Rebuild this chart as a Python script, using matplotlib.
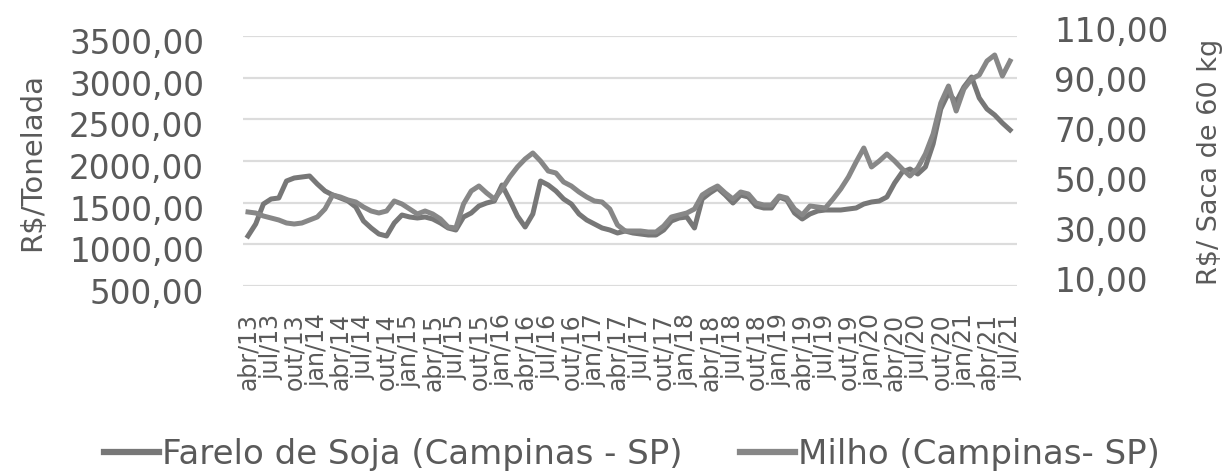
import matplotlib
matplotlib.use("Agg")
import matplotlib.pyplot as plt
from matplotlib.transforms import ScaledTranslation
import numpy as np

# ---- data ----
month_abbr = ["jan", "fev", "mar", "abr", "mai", "jun", "jul", "ago", "set", "out", "nov", "dez"]
start_year, start_month = 2013, 4  # abr/13
n_points = 100                      # abr/13 .. jul/21

farelo = [1100, 1244, 1484, 1544, 1556, 1760, 1796, 1808, 1820, 1724,
          1640, 1592, 1556, 1520, 1448, 1280, 1196, 1124, 1100, 1256,
          1352, 1328, 1316, 1328, 1304, 1256, 1196, 1172, 1328, 1376,
          1460, 1496, 1520, 1712, 1532, 1340, 1208, 1364, 1760, 1712,
          1640, 1544, 1484, 1364, 1292, 1244, 1196, 1172, 1136, 1160,
          1136, 1124, 1112, 1112, 1172, 1280, 1316, 1328, 1196, 1544,
          1616, 1676, 1592, 1496, 1592, 1568, 1460, 1436, 1436, 1568,
          1532, 1376, 1304, 1364, 1400, 1412, 1412, 1412, 1424, 1436,
          1484, 1508, 1520, 1568, 1736, 1868, 1904, 1844, 1928, 2204,
          2624, 2816, 2708, 2888, 3008, 2756, 2624, 2552, 2456, 2372]

milho = [39.6, 39.2, 38.0, 37.2, 36.4, 35.2, 34.8, 35.2, 36.4, 37.6,
         40.8, 46.4, 45.6, 44.4, 43.6, 41.6, 40.0, 39.2, 40.0, 44.0,
         42.8, 40.8, 38.8, 40.0, 38.8, 36.8, 33.6, 33.2, 42.8, 48.0,
         50.0, 47.2, 44.8, 48.8, 53.6, 57.6, 60.8, 63.2, 60.0, 56.0,
         55.2, 51.6, 50.0, 47.6, 45.6, 44.0, 43.6, 40.8, 34.4, 32.0,
         32.0, 32.0, 31.6, 31.6, 34.0, 37.6, 38.4, 39.2, 40.8, 46.4,
         48.4, 50.0, 47.2, 44.8, 47.6, 46.8, 43.2, 42.4, 42.4, 46.0,
         45.2, 40.8, 38.4, 42.0, 41.6, 41.2, 44.8, 48.8, 53.6, 59.6,
         65.2, 57.6, 60.0, 62.8, 60.0, 56.8, 54.0, 57.2, 62.8, 70.8,
         83.2, 90.0, 80.0, 88.8, 92.8, 94.4, 100.0, 102.4, 94.0, 100.0]

left_ticks = [500, 1000, 1500, 2000, 2500, 3000, 3500]
right_ticks = [10, 30, 50, 70, 90, 110]

labels = []
for k in range(n_points):
    m = (start_month - 1 + k) % 12
    y = start_year + (start_month - 1 + k) // 12
    labels.append(f"{month_abbr[m]}/{y % 100:02d}")

# ---- plot ----
plt.rcParams['font.family'] = ['DejaVu Sans']
txt = '#5a5a5a'
fig = plt.figure(figsize=(12.32, 4.77), dpi=100)
ax = fig.add_axes([243/1232, 1 - 287/477, (1017-243)/1232, 250/477])
ax2 = ax.twinx()

x = np.arange(n_points)
l1, = ax.plot(x, farelo, color='#777777', lw=3.6, solid_joinstyle='round',
              label='Farelo de Soja (Campinas - SP)')
l2, = ax2.plot(x, milho, color='#878787', lw=3.6, solid_joinstyle='round',
               label='Milho (Campinas- SP)')

ax.set_xlim(-0.65, 99.9)
ax.set_ylim(500, 3500)
ax2.set_ylim(10, 110)

ax.set_yticks(left_ticks)
ax.set_yticklabels([f"{v:.2f}".replace('.', ',') for v in left_ticks])
ax2.set_yticks(right_ticks)
ax2.set_yticklabels([f"{v:.2f}".replace('.', ',') for v in right_ticks])

ax.set_xticks(x[::3])
ax.set_xticklabels(labels[::3], rotation=90)

ax.grid(axis='y', color='#dcdcdc', lw=1.6)
ax.set_axisbelow(True)
for a in (ax, ax2):
    for s in a.spines.values():
        s.set_visible(False)
ax.tick_params(axis='y', length=0, pad=28, labelsize=23.5, labelcolor=txt)
ax2.tick_params(axis='y', length=0, pad=27, labelsize=23.5, labelcolor=txt)
ax.tick_params(axis='x', length=0, pad=19, labelsize=17, labelcolor=txt)

# slight vertical offsets of tick labels as in the scanned reference
for lbl in ax.get_yticklabels():
    lbl.set_transform(lbl.get_transform() + ScaledTranslation(0, -4/100, fig.dpi_scale_trans))
for lbl in ax2.get_yticklabels():
    lbl.set_transform(lbl.get_transform() + ScaledTranslation(0, 8/100, fig.dpi_scale_trans))

ax.set_ylabel('R$/Tonelada', fontsize=21, color=txt)
ax.yaxis.set_label_coords(-(243-46)/774, 0.5)
ax2.set_ylabel('R$/ Saca de 60 kg', fontsize=19.5, color=txt)
ax2.yaxis.set_label_coords((1197-243)/774, 0.5)

leg = fig.legend([l1, l2], [l1.get_label(), l2.get_label()], loc='center',
                 bbox_to_anchor=(0.513, 1 - 455/477), ncol=2, frameon=False,
                 fontsize=24.5, handlelength=1.6, handletextpad=0.1,
                 columnspacing=1.7)
for t in leg.get_texts():
    t.set_color(txt)
for h in leg.legend_handles:
    h.set_linewidth(4.5)

fig.savefig('out.png', dpi=100)
